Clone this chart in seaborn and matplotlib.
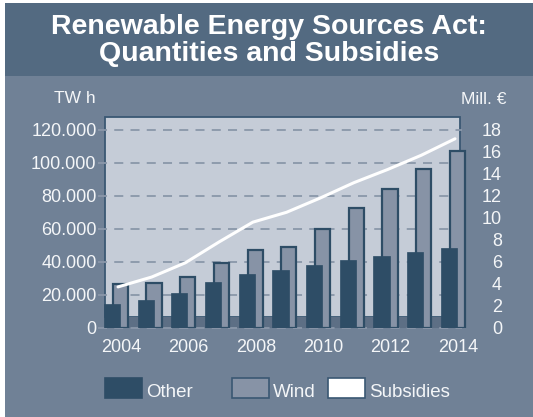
#!/usr/bin/env python3
"""Renewable Energy Sources Act: quantities (TWh) and subsidies (Mill. EUR)."""

import numpy as np
import matplotlib
matplotlib.use("Agg")
import matplotlib.pyplot as plt
from matplotlib.patches import Rectangle
import seaborn as sns

# data
years = [2004, 2005, 2006, 2007, 2008, 2009, 2010, 2011, 2012, 2013, 2014]
other_twh = [14000, 17000, 21200, 27900, 32700, 35100, 38200, 41200, 43600, 46000, 48500]
wind_twh = [26500, 27000, 30500, 39000, 46800, 49200, 60000, 72800, 84300, 96500, 107400]
subsidies = [3.7, 4.6, 5.9, 7.8, 9.6, 10.5, 11.8, 13.2, 14.4, 15.7, 17.2]
left_ticks = [0, 20000, 40000, 60000, 80000, 100000, 120000]
left_labels = ["0", "20.000", "40.000", "60.000", "80.000", "100.000", "120.000"]
right_ticks = [0, 2, 4, 6, 8, 10, 12, 14, 16, 18]
label_years = [2004, 2006, 2008, 2010, 2012, 2014]

# colours
HEADER = "#536a81"
BODY = "#708196"
WALL = "#c5ccd7"
FLOOR = "#5d6f85"
GRID = "#8a97a9"
DARK = "#2e4d66"
WIND = "#8793a6"
EDGE = "#3a5873"
TEXT = "#f4f6f8"

sns.set_style("white")
plt.rcParams["font.family"] = ["Liberation Sans", "DejaVu Sans"]

W, H = 533, 417
fig = plt.figure(figsize=(W / 100, H / 100), dpi=100, facecolor="white")


def fx(px):
    return px / W


def fy(py):
    return 1 - py / H


# background panels
fig.add_artist(Rectangle((fx(5), 0), 1, fy(3), transform=fig.transFigure,
                         facecolor=BODY, edgecolor="none", zorder=0))
fig.add_artist(Rectangle((fx(5), fy(76)), 1, fy(3) - fy(76), transform=fig.transFigure,
                         facecolor=HEADER, edgecolor="none", zorder=0))

title_kw = dict(ha="center", va="baseline", color="white", fontsize=20.5, fontweight="bold")
fig.text(fx(269), fy(34), "Renewable Energy Sources Act:", **title_kw)
fig.text(fx(269), fy(61), "Quantities and Subsidies", **title_kw)

# axes geometry (pixels)
ax_l, ax_r, ax_t, ax_b = 98, 470, 117, 327.5
ax = fig.add_axes([fx(ax_l), fy(ax_b), fx(ax_r - ax_l), fy(ax_t) - fy(ax_b)])
ax.patch.set_alpha(0)

base_px, step_px = 116, 33.7
x0 = years[0] + (ax_l - base_px) / step_px
x1 = years[0] + (ax_r - base_px) / step_px
wall_l = years[0] + (105 - base_px) / step_px
wall_r = years[0] + (460 - base_px) / step_px
ytop = 120000 * (ax_b - ax_t) / (ax_b - 130)
floor_top = ytop * (ax_b - 317) / (ax_b - ax_t)

# wall and floor
ax.add_patch(Rectangle((wall_l, floor_top), wall_r - wall_l, ytop - floor_top,
                       facecolor=WALL, edgecolor=EDGE, linewidth=1.3, zorder=0, clip_on=False))
ax.add_patch(Rectangle((wall_l, 0), wall_r - wall_l, floor_top,
                       facecolor=FLOOR, edgecolor="none", zorder=0, clip_on=False))
ax.hlines(left_ticks, x0, wall_r + 0.05, colors=GRID, linewidth=1.3,
          linestyles=(0, (5, 4)), zorder=1, clip_on=False)

yrs = np.array(years, dtype=float)
sns.barplot(x=yrs + 0.13, y=wind_twh, native_scale=True, width=0.45, color=WIND,
            saturation=1, edgecolor=DARK, linewidth=1.6, errorbar=None, ax=ax, zorder=2)
sns.barplot(x=yrs - 0.12, y=other_twh, native_scale=True, width=0.48, color=DARK,
            saturation=1, edgecolor=DARK, linewidth=0.5, errorbar=None, ax=ax, zorder=3)

ax.set_xlim(x0, x1)
ax.set_ylim(0, ytop)
ax.set_yticks(left_ticks)
ax.set_yticklabels(left_labels)
ax.set_xticks(np.array(label_years) + 0.15)
ax.set_xticklabels([str(y) for y in label_years])
ax.tick_params(axis="y", length=0, pad=1, labelsize=13, labelcolor=TEXT)
ax.tick_params(axis="x", length=0, pad=8, labelsize=13, labelcolor=TEXT)
ax.set_xlabel("")
ax.set_ylabel("")
for s in ax.spines.values():
    s.set_visible(False)

# subsidies on the right axis
ax2 = ax.twinx()
sns.lineplot(x=yrs + 0.06, y=subsidies, color="white", linewidth=2.2, ax=ax2, zorder=4)
ax2.set_ylim(0, 18 * (ax_b - ax_t) / (ax_b - 130))
ax2.set_xlim(x0, x1)
ax2.set_yticks(right_ticks)
ax2.set_yticklabels([str(t) for t in right_ticks], ha="right")
ax2.tick_params(axis="y", length=0, pad=23, labelsize=13, labelcolor=TEXT)
ax2.set_ylabel("")
for s in ax2.spines.values():
    s.set_visible(False)

fig.text(fx(75), fy(103), "TW h", ha="center", va="baseline", color=TEXT, fontsize=12.5)
fig.text(fx(484), fy(104), "Mill. €", ha="center", va="baseline", color=TEXT, fontsize=12.5)

# legend
legend_items = [("Other", 105, DARK, DARK), ("Wind", 232, WIND, EDGE), ("Subsidies", 328, "white", EDGE)]
for name, px, face, edge in legend_items:
    fig.add_artist(Rectangle((fx(px), fy(398)), fx(37), fy(378) - fy(398), transform=fig.transFigure,
                             facecolor=face, edgecolor=edge, linewidth=1.2))
    fig.text(fx(px + 41), fy(397), name, ha="left", va="baseline", color=TEXT, fontsize=13.5)

fig.savefig("out.png", dpi=100, facecolor=fig.get_facecolor())
